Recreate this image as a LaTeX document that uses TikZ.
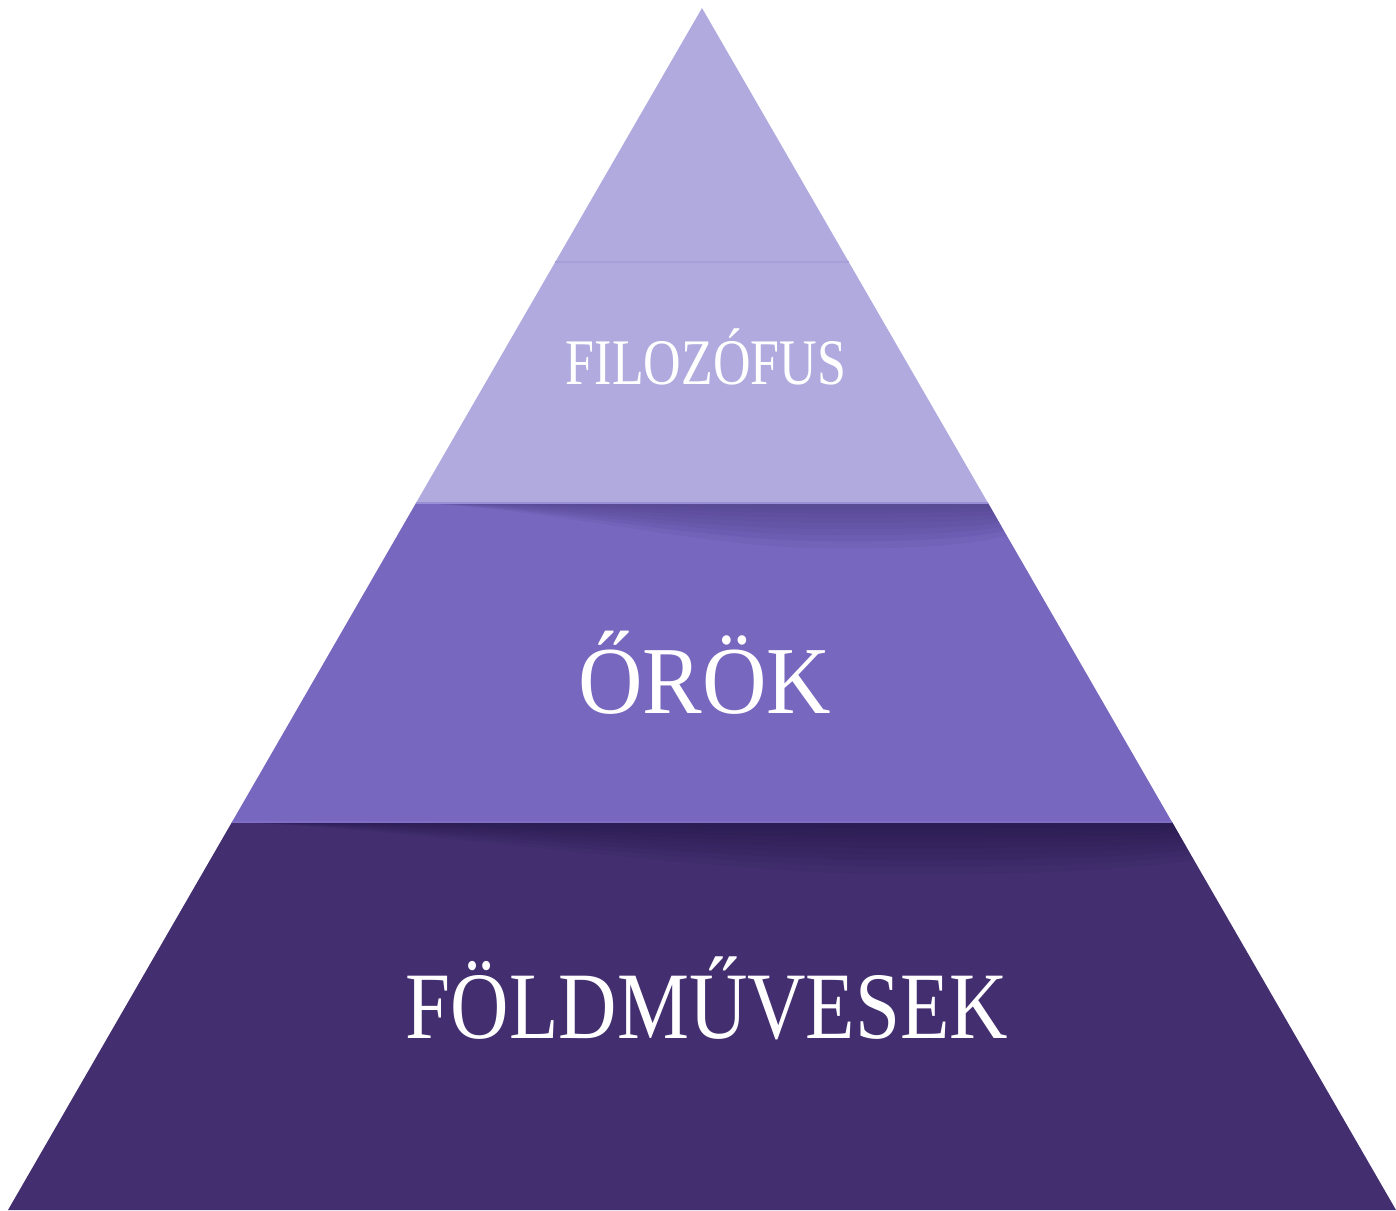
\documentclass[tikz,border=0pt]{standalone}
\usepackage{fontspec}
\newfontfamily\labelfontA[FakeStretch=0.80]{Liberation Serif}
\newfontfamily\labelfontB[FakeStretch=0.93]{Liberation Serif}
\newfontfamily\labelfontC[FakeStretch=0.85]{Liberation Serif}
\definecolor{topc}{HTML}{B0AADF}
\definecolor{midc}{HTML}{7767BF}
\definecolor{botc}{HTML}{432F70}
\definecolor{midsh}{HTML}{4A3D82}
\definecolor{botsh}{HTML}{24184A}
\definecolor{topline}{HTML}{A69FD8}
\definecolor{midline}{HTML}{9A8FD6}
\definecolor{botline}{HTML}{7E6EC6}
\tikzset{
  lbl/.style={text=white, anchor=base, inner sep=0pt},
  shadowlayer/.style={fill=#1, fill opacity=0.11},
}
\begin{document}
\begin{tikzpicture}[x=0.5pt,y=-0.5pt]
\useasboundingbox (0,0) rectangle (1396,1210);
% corner coordinates
\coordinate (apex) at (702,8);
\coordinate (l1) at (416,503);
\coordinate (r1) at (988,503);
\coordinate (l2) at (232,822);
\coordinate (r2) at (1172,822);
\coordinate (l3) at (8,1210);
\coordinate (r3) at (1396,1210);
\coordinate (la) at (555,262);
\coordinate (ra) at (849,262);
% bands
\fill[topc] (apex) -- (r1) -- (l1) -- cycle;
\fill[midc] (l1) -- (r1) -- (r2) -- (l2) -- cycle;
\fill[botc] (l2) -- (r2) -- (r3) -- (l3) -- cycle;
% faint line in top band
\draw[topline, line width=0.6pt] (la) -- (ra);
% shadows
\begin{scope}
  \clip (l1) -- (r1) -- (r2) -- (l2) -- cycle;
  \foreach \d in {6,10,15,20,26,32,38,45} {
    \fill[shadowlayer=midsh] (416,503) .. controls (560,503+0.15*\d) and (680,503+0.9*\d) .. (810,503+\d)
      .. controls (920,503+1.05*\d) and (980,503+0.9*\d) .. (1010,503+0.7*\d) -- (1010,503) -- cycle;
  }
\end{scope}
\begin{scope}
  \clip (l2) -- (r2) -- (r3) -- (l3) -- cycle;
  \foreach \d in {6,10,15,20,26,32,38,45,52} {
    \fill[shadowlayer=botsh] (232,822) .. controls (420,822+0.15*\d) and (650,822+0.85*\d) .. (860,822+\d)
      .. controls (1020,822+1.05*\d) and (1150,822+0.9*\d) .. (1200,822+0.7*\d) -- (1200,822) -- cycle;
  }
\end{scope}
\draw[midline, line width=0.8pt] (l1) -- (r1);
\draw[botline, line width=0.8pt] (l2) -- (r2);
% labels
\node[lbl, font=\labelfontA\fontsize{32.5}{36}\selectfont] (t1) at (706,384) {FILOZÓFUS};
\node[lbl, font=\labelfontB\fontsize{48}{52}\selectfont] (t2) at (705,713) {ŐRÖK};
\node[lbl, font=\labelfontC\fontsize{47.6}{52}\selectfont] (t3) at (707,1038) {FÖLDMŰVESEK};
\end{tikzpicture}
\end{document}
